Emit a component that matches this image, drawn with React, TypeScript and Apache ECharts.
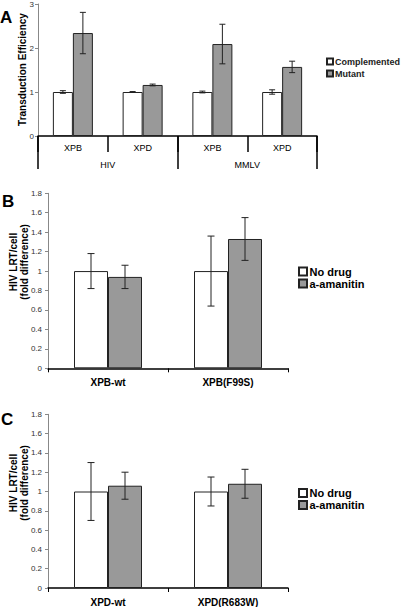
import React, { useEffect, useRef } from "react";
import * as echarts from "echarts";

const aCats = ["XPB", "XPD", "XPB", "XPD"];
const aGroups = ["HIV", "MMLV"];
const aComp = [1.0, 1.0, 1.0, 1.0];
const aCompErr = [0.03, 0.01, 0.02, 0.05];
const aMut = [2.34, 1.16, 2.09, 1.57];
const aMutErr = [0.47, 0.02, 0.45, 0.13];
const aTicks = [0, 1, 2, 3];

const bCats = ["XPB-wt", "XPB(F99S)"];
const bNoDrug = [1.0, 1.0];
const bNoDrugErr = [0.18, 0.36];
const bAman = [0.94, 1.33];
const bAmanErr = [0.12, 0.22];

const cCats = ["XPD-wt", "XPD(R683W)"];
const cNoDrug = [1.0, 1.0];
const cNoDrugErr = [0.3, 0.15];
const cAman = [1.06, 1.08];
const cAmanErr = [0.14, 0.15];

const FONT = "Liberation Sans, Arial, sans-serif";
const GRAY = "#999999";

function errSeries(vals: number[], errs: number[], idx: number, offset: number, cap: number) {
  return {
    type: "custom",
    xAxisIndex: idx,
    yAxisIndex: idx,
    z: 10,
    silent: true,
    data: vals.map((v, i) => [i, v, errs[i]]),
    encode: { x: 0, y: 1 },
    renderItem: (params: any, api: any) => {
      const i = api.value(0);
      const v = api.value(1);
      const e = api.value(2);
      const top = api.coord([i, v + e]);
      const bot = api.coord([i, v - e]);
      const x = top[0] + offset;
      const st = { stroke: "#222", lineWidth: 1 };
      return {
        type: "group",
        children: [
          { type: "line", shape: { x1: x, y1: top[1], x2: x, y2: bot[1] }, style: st },
          { type: "line", shape: { x1: x - cap / 2, y1: top[1], x2: x + cap / 2, y2: top[1] }, style: st },
          { type: "line", shape: { x1: x - cap / 2, y1: bot[1], x2: x + cap / 2, y2: bot[1] }, style: st },
        ],
      };
    },
  };
}

function barSeries(name: string, vals: number[], idx: number, color: string, width: number) {
  return {
    type: "bar",
    name,
    xAxisIndex: idx,
    yAxisIndex: idx,
    data: vals,
    barWidth: width,
    barGap: "0%",
    itemStyle: { color, borderColor: "#222", borderWidth: 1 },
  };
}

function lrtYAxis(gridIndex: number) {
  return {
    type: "value",
    gridIndex,
    min: 0,
    max: 1.8,
    interval: 0.2,
    axisLine: { show: true, lineStyle: { color: "#888", width: 1 } },
    axisTick: { show: true, length: 3, lineStyle: { color: "#888" } },
    splitLine: { show: false },
    axisLabel: { fontSize: 8, color: "#333", fontFamily: FONT, margin: 6 },
  };
}

function lrtXAxis(gridIndex: number, cats: string[]) {
  return {
    type: "category",
    gridIndex,
    data: cats,
    axisLine: { show: true, lineStyle: { color: "#000", width: 1.5 } },
    axisTick: { show: true, length: 4, lineStyle: { color: "#000", width: 1 } },
    axisLabel: { fontSize: 10, fontWeight: "bold", color: "#000", fontFamily: FONT, margin: 9 },
  };
}

function lrtLegend(top: number) {
  return {
    orient: "vertical",
    left: 298,
    top,
    padding: 0,
    itemWidth: 8,
    itemHeight: 8,
    itemGap: 1,
    icon: "rect",
    data: ["No drug", "a-amanitin"],
    textStyle: { fontSize: 11, fontWeight: "bold", color: "#000", fontFamily: FONT, padding: [0, 0, 0, -2.5] },
  };
}

function rotText(x: number, y: number, text: string) {
  return {
    type: "text",
    x,
    y,
    rotation: Math.PI / 2,
    style: {
      text,
      font: `bold 10px ${FONT}`,
      lineHeight: 11,
      textAlign: "center",
      textVerticalAlign: "middle",
      fill: "#000",
    },
  };
}

export default function App() {
  const ref = useRef<HTMLDivElement>(null);
  useEffect(() => {
    const chart = echarts.init(ref.current!, null, { renderer: "svg" });
    const option: any = {
      animation: false,
      backgroundColor: "#fff",
      textStyle: { fontFamily: FONT },
      grid: [
        { left: 38, right: 86, top: 3, bottom: 471 },
        { left: 48, right: 115, top: 193.3, bottom: 238.7 },
        { left: 48, right: 115, top: 414.3, bottom: 17.7 },
      ],
      xAxis: [
        {
          type: "category",
          gridIndex: 0,
          data: aCats,
          axisLine: { show: true, lineStyle: { color: "#000", width: 1.5 } },
          axisTick: { show: true, length: 16, lineStyle: { color: "#000", width: 1.5 } },
          axisLabel: { fontSize: 9, color: "#000", fontFamily: FONT, margin: 7 },
        },
        lrtXAxis(1, bCats),
        lrtXAxis(2, cCats),
        {
          type: "category",
          gridIndex: 0,
          position: "bottom",
          data: aGroups,
          axisLine: { show: false },
          axisTick: { show: true, length: 33, lineStyle: { color: "#000", width: 1.5 } },
          axisLabel: { fontSize: 9, color: "#000", fontFamily: FONT, margin: 24 },
        },
      ],
      yAxis: [
        {
          type: "value",
          gridIndex: 0,
          min: aTicks[0],
          max: aTicks[aTicks.length - 1],
          interval: 1,
          axisLine: { show: true, lineStyle: { color: "#888", width: 1 } },
          axisTick: { show: true, length: 3, lineStyle: { color: "#888" } },
          splitLine: { show: false },
          axisLabel: { fontSize: 8, color: "#333", fontFamily: FONT, margin: 4 },
        },
        lrtYAxis(1),
        lrtYAxis(2),
      ],
      legend: [
        {
          orient: "vertical",
          left: 326,
          top: 57,
          padding: 0,
          itemWidth: 6,
          itemHeight: 6,
          itemGap: 3,
          icon: "rect",
          data: ["Complemented", "Mutant"],
          textStyle: { fontSize: 9, fontWeight: "bold", color: "#222", fontFamily: FONT, padding: [0, 0, 0, -3] },
        },
        lrtLegend(266),
        lrtLegend(487.5),
      ],
      series: [
        barSeries("Complemented", aComp, 0, "#fff", 20),
        barSeries("Mutant", aMut, 0, GRAY, 20),
        errSeries(aComp, aCompErr, 0, -10, 6),
        errSeries(aMut, aMutErr, 0, 10, 6),
        barSeries("No drug", bNoDrug, 1, "#fff", 34),
        barSeries("a-amanitin", bAman, 1, GRAY, 34),
        errSeries(bNoDrug, bNoDrugErr, 1, -17, 7),
        errSeries(bAman, bAmanErr, 1, 17, 7),
        barSeries("No drug", cNoDrug, 2, "#fff", 34),
        barSeries("a-amanitin", cAman, 2, GRAY, 34),
        errSeries(cNoDrug, cNoDrugErr, 2, -17, 7),
        errSeries(cAman, cAmanErr, 2, 17, 7),
      ],
      graphic: [
        { type: "text", left: 0, top: 9, style: { text: "A", font: `bold 17px ${FONT}`, fill: "#000" } },
        { type: "text", left: 2, top: 193, style: { text: "B", font: `bold 17px ${FONT}`, fill: "#000" } },
        { type: "text", left: 1, top: 411, style: { text: "C", font: `bold 17px ${FONT}`, fill: "#000" } },
        rotText(22.5, 69.5, "Transduction Efficiency"),
        rotText(19, 262, "HIV LRT/cell\n(fold difference)"),
        rotText(19, 483, "HIV LRT/cell\n(fold difference)"),
      ],
    };
    chart.setOption(option);
    return () => chart.dispose();
  }, []);
  return (
    <div
      ref={ref}
      style={{ position: "absolute", left: 0, top: 0, width: 403, height: 607 }}
    />
  );
}
